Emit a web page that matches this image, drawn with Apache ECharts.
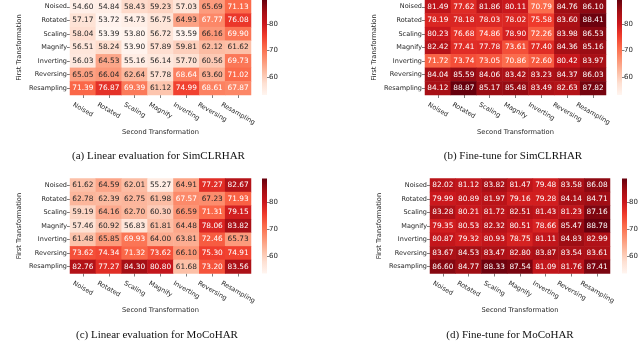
<!DOCTYPE html>
<html><head><meta charset="utf-8">
<script src="https://cdn.jsdelivr.net/npm/echarts@6/dist/echarts.min.js"></script>
<style>html,body{margin:0;padding:0;background:#fff}#c{width:640px;height:353px}</style>
</head><body><div id="c"></div>
<script>
const transforms = ['Noised','Rotated','Scaling','Magnify','Inverting','Reversing','Resampling'];
const linearSimCLR = [
  [54.60,54.84,58.43,59.23,57.03,65.69,71.13],
  [57.17,53.72,54.73,56.75,64.93,67.77,76.08],
  [58.04,53.39,53.80,56.72,53.59,66.16,69.90],
  [56.51,58.24,53.90,57.89,59.81,62.12,61.62],
  [56.03,64.53,55.16,56.14,57.70,60.56,69.73],
  [65.05,66.04,62.64,57.78,68.64,63.60,71.02],
  [71.39,76.87,69.39,61.12,74.99,68.61,67.87]
];
const finetuneSimCLR = [
  [81.49,77.62,81.86,80.11,70.79,84.76,86.10],
  [78.19,78.18,78.03,78.02,75.58,83.60,88.41],
  [80.23,76.68,74.86,78.90,72.26,83.98,86.53],
  [82.42,77.41,77.78,73.61,77.40,84.36,85.16],
  [71.72,73.74,73.05,70.86,72.60,80.42,83.97],
  [84.04,85.59,84.06,83.42,83.23,84.37,86.03],
  [84.12,88.87,85.17,85.48,83.49,82.63,87.82]
];
const linearMoCo = [
  [61.62,64.59,62.01,55.27,64.91,77.27,82.67],
  [62.78,62.39,62.75,61.98,67.57,67.23,71.93],
  [59.19,64.16,62.70,60.30,66.59,71.31,79.15],
  [57.46,60.92,56.83,61.81,64.48,78.06,83.82],
  [61.48,65.85,69.93,64.00,63.81,72.46,65.73],
  [73.62,74.34,71.32,73.62,66.10,75.30,74.91],
  [82.76,77.27,84.30,80.80,61.68,73.20,83.56]
];
const finetuneMoCo = [
  [82.02,81.12,83.82,81.47,79.48,83.58,86.08],
  [79.99,80.89,81.97,79.16,79.28,84.14,84.71],
  [83.28,80.21,81.72,82.51,81.43,81.23,87.16],
  [79.35,80.53,82.32,80.51,78.66,85.47,88.78],
  [80.87,79.32,80.93,78.75,81.11,84.83,82.99],
  [83.67,84.53,83.47,82.80,83.87,83.54,83.61],
  [86.60,84.77,88.33,87.54,81.09,81.76,87.41]
];
const colorbarTicks = [60,70,80];
const captions = ['(a) Linear evaluation for SimCLRHAR','(b) Fine-tune for SimCLRHAR','(c) Linear evaluation for MoCoHAR','(d) Fine-tune for MoCoHAR'];
const xName = 'Second Transformation';
const yName = 'First Transformation';

const matrices = [linearSimCLR, finetuneSimCLR, linearMoCo, finetuneMoCo];
const allVals = matrices.flat(2);
const vmin = Math.min(...allVals), vmax = Math.max(...allVals);
const reds = ['#fff5f0','#fee0d2','#fcbba1','#fc9272','#fb6a4a','#ef3b2c','#cb181d','#a50f15','#67000d'];

function hexRgb(h){return [1,3,5].map(i=>parseInt(h.substr(i,2),16)/255);}
function cmap(v){
  let t=(v-vmin)/(vmax-vmin); t=Math.max(0,Math.min(1,t));
  const p=t*8, i=Math.min(7,Math.floor(p)), f=p-i;
  const a=hexRgb(reds[i]), b=hexRgb(reds[i+1]);
  return a.map((c,k)=>c+(b[k]-c)*f);
}
function textColor(v){
  const rgb=cmap(v).map(c=>c<=0.03928?c/12.92:Math.pow((c+0.055)/1.055,2.4));
  const l=0.2126*rgb[0]+0.7152*rgb[1]+0.0722*rgb[2];
  return l>0.408?'#262626':'#ffffff';
}

const FONT='"DejaVu Sans", sans-serif';
const tickFs=6.5, valFs=7.4, nameFs=6.7, cbFs=7;
const canvas=document.createElement('canvas').getContext('2d');
canvas.font=tickFs+'px "DejaVu Sans"';
const rich={};
transforms.forEach((t,i)=>{
  const w=canvas.measureText(t).width, h=tickFs*1.15;
  const d=(w*0.5+h*0.866)/2;
  rich['x'+i]={fontFamily:FONT,fontSize:tickFs,color:'#262626',padding:[1.732*d,0,0,d]};
});

const layouts=[
  {left:70,top:0,width:181,height:95,cb:262,cap:[153.5,146]},
  {left:425,top:0,width:181,height:95,cb:617,cap:[508,146]},
  {left:70,top:178.5,width:181,height:95,cb:262,cap:[152,325]},
  {left:430,top:178.5,width:180,height:95,cb:622,cap:[505,325]}
];

const grid=[],xAxis=[],yAxis=[],series=[],title=[];
layouts.forEach((L,k)=>{
  grid.push({left:L.left,top:L.top,width:L.width,height:L.height,containLabel:false,outerBoundsMode:'none'});
  xAxis.push({type:'category',gridIndex:k,data:transforms,position:'bottom',
    axisLine:{show:false},axisTick:{show:true,alignWithLabel:true,length:3,lineStyle:{color:'#262626',width:0.6}},
    axisLabel:{interval:0,rotate:-30,align:'center',verticalAlign:'middle',margin:6,
      formatter:(v,i)=>'{x'+i+'|'+v+'}',rich:rich},
    name:xName,nameLocation:'middle',nameGap:30,nameTextStyle:{fontFamily:FONT,fontSize:nameFs,color:'#262626'},
    splitLine:{show:false}});
  yAxis.push({type:'category',gridIndex:k,data:transforms,inverse:true,
    axisLine:{show:false},axisTick:{show:true,alignWithLabel:true,length:3,lineStyle:{color:'#262626',width:0.6}},
    axisLabel:{interval:0,margin:3,fontFamily:FONT,fontSize:tickFs,color:'#262626'},
    name:yName,nameLocation:'middle',nameGap:47,nameTextStyle:{fontFamily:FONT,fontSize:nameFs,color:'#262626'},
    splitLine:{show:false}});
  const M=matrices[k];
  const data=[];
  M.forEach((row,r)=>row.forEach((v,c)=>{
    data.push({value:[c,r,v],label:{color:textColor(v)}});
  }));
  series.push({type:'heatmap',xAxisIndex:k,yAxisIndex:k,data:data,
    label:{show:true,fontFamily:FONT,fontSize:valFs,formatter:p=>p.value[2].toFixed(2)},
    itemStyle:{borderWidth:0},emphasis:{disabled:true}});
  title.push({text:captions[k],left:L.cap[0],top:L.cap[1],textAlign:'center',
    textStyle:{fontFamily:'"Liberation Serif", serif',fontSize:11,fontWeight:'normal',color:'#111'}});
});
// colorbars
layouts.forEach((L,k)=>{
  const gi=grid.length;
  grid.push({left:L.cb,top:L.top,width:5,height:L.height,containLabel:false,outerBoundsMode:'none'});
  xAxis.push({type:'category',gridIndex:gi,data:['c'],show:false});
  yAxis.push({type:'value',gridIndex:gi,position:'right',min:vmin,max:vmax,
    axisLine:{show:false},splitLine:{show:false},
    axisTick:{show:true,length:2.5,customValues:colorbarTicks,lineStyle:{color:'#262626',width:0.6}},
    axisLabel:{show:true,margin:2,customValues:colorbarTicks,fontFamily:FONT,fontSize:cbFs,color:'#262626'}});
  series.push({type:'custom',xAxisIndex:gi,yAxisIndex:gi,data:[[0,vmin,vmax]],silent:true,
    renderItem:(params,api)=>{
      const top=api.coord([0,api.value(2)]), bot=api.coord([0,api.value(1)]);
      const w=api.size([1,0])[0];
      return {type:'rect',shape:{x:top[0]-w/2,y:top[1],width:w,height:bot[1]-top[1]},
        style:{fill:new echarts.graphic.LinearGradient(0,1,0,0,reds.map((c,i)=>({offset:i/8,color:c})))}};
    }});
});

const chart=echarts.init(document.getElementById('c'),null,{renderer:'canvas'});
chart.setOption({
  animation:false,
  title:title,grid:grid,xAxis:xAxis,yAxis:yAxis,series:series,
  visualMap:{show:false,type:'continuous',min:vmin,max:vmax,seriesIndex:[0,1,2,3],dimension:2,inRange:{color:reds}}
});
</script></body></html>
